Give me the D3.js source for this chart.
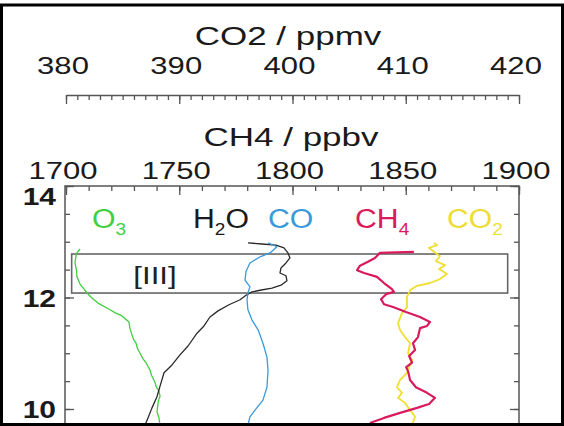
<!DOCTYPE html>
<html>
<head>
<meta charset="utf-8">
<script src="https://cdn.jsdelivr.net/npm/d3@7"></script>
<style>
  html, body { margin: 0; padding: 0; background: #fff; }
  svg { display: block; font-family: "Liberation Sans", Arial, sans-serif; }
</style>
</head>
<body>
<svg id="chart" width="564" height="426"></svg>
<script>
// Tick labels of the two trace-gas axes and the altitude axis
const co2Ticks = [380, 390, 400, 410, 420];
const ch4Ticks = [1700, 1750, 1800, 1850, 1900];
const altTicks = [10, 12, 14];

// Vertical profiles: altitude (km) and mixing ratio for each species
const o3Alt = [12.87, 12.80, 12.74, 12.62, 12.50, 12.37, 12.24, 12.15, 12.05, 11.99, 11.90, 11.78, 11.72, 11.67, 11.56, 11.45, 11.33, 11.25, 11.18, 11.08, 11.00, 10.90, 10.83, 10.70, 10.60, 10.48, 10.40, 10.32, 10.23, 10.15, 10.09, 9.95, 9.84, 9.71];
const o3Val = [15.5, 12.0, 11.0, 9.9, 11.5, 12.1, 15.5, 19.9, 25.0, 28.7, 35.3, 48.6, 55.0, 61.8, 69.5, 70.5, 72.8, 74.5, 77.3, 79.0, 81.7, 85.0, 88.3, 92.7, 94.5, 98.2, 99.5, 102.6, 103.8, 102.0, 101.5, 100.4, 102.6, 103.8];

const h2oAlt = [12.98, 12.96, 12.94, 12.89, 12.80, 12.71, 12.62, 12.53, 12.44, 12.39, 12.30, 12.22, 12.17, 12.13, 12.10, 12.04, 11.96, 11.87, 11.76, 11.65, 11.49, 11.36, 11.13, 10.97, 10.79, 10.65, 10.41, 10.22, 10.02, 9.84, 9.71];
const h2oVal = [299.1, 283.7, 268.2, 259.4, 255.0, 252.8, 257.2, 262.7, 263.8, 257.2, 256.1, 262.7, 272.6, 285.9, 294.7, 301.3, 307.9, 320.1, 332.2, 341.1, 347.7, 355.4, 365.3, 374.2, 383.0, 391.8, 396.2, 399.6, 405.1, 409.5, 412.8];

const coAlt = [12.98, 12.91, 12.80, 12.73, 12.62, 12.46, 12.31, 12.19, 12.08, 11.96, 11.78, 11.60, 11.42, 11.18, 10.93, 10.70, 10.39, 10.16, 9.98, 9.86, 9.71];
const coVal = [111.5, 116.4, 112.6, 107.1, 101.5, 99.3, 98.8, 101.5, 100.4, 99.9, 100.4, 102.6, 106.0, 108.7, 110.9, 111.5, 110.9, 108.7, 104.3, 101.5, 100.4];

const ch4Alt = [12.82, 12.80, 12.71, 12.64, 12.57, 12.49, 12.44, 12.37, 12.26, 12.15, 12.10, 12.06, 11.97, 11.88, 11.83, 11.74, 11.65, 11.56, 11.49, 11.45, 11.29, 11.18, 11.06, 10.95, 10.83, 10.75, 10.68, 10.52, 10.39, 10.29, 10.20, 10.09, 10.02, 9.93, 9.84, 9.75];
const ch4Val = [1853.6, 1838.6, 1836.4, 1833.3, 1829.8, 1828.5, 1831.6, 1837.3, 1840.4, 1843.9, 1844.8, 1841.3, 1839.1, 1840.4, 1844.4, 1850.1, 1856.3, 1860.7, 1859.4, 1856.3, 1855.4, 1853.2, 1854.1, 1851.5, 1852.8, 1850.2, 1851.0, 1851.9, 1854.5, 1859.4, 1862.9, 1860.3, 1855.0, 1847.5, 1840.4, 1834.2];

const co2Alt = [12.98, 12.94, 12.89, 12.82, 12.74, 12.65, 12.58, 12.51, 12.42, 12.33, 12.26, 12.21, 12.13, 12.01, 11.83, 11.72, 11.54, 11.42, 11.29, 11.18, 11.00, 10.88, 10.65, 10.52, 10.39, 10.29, 10.20, 10.11, 9.98, 9.86, 9.71];
const co2Val = [412.49, 412.76, 412.05, 412.49, 413.02, 412.67, 413.47, 412.94, 413.64, 413.02, 412.14, 410.99, 410.38, 410.11, 410.11, 409.67, 409.32, 409.49, 409.93, 410.38, 410.20, 410.55, 410.11, 409.49, 409.23, 409.67, 409.32, 409.93, 410.38, 410.82, 410.55];

// Highlighted layer [III]: altitude span and horizontal extent (CH4 units)
const layerAlt = [12.08, 12.78];
const layerX = [1702.5, 1895];
const layerName = "[III]";

const svg = d3.select("#chart");
const W = 564, H = 426;
const plotLeft = 66, plotRight = 519, plotTop = 186;

// Scales
const y = d3.scaleLinear().domain([10, 14]).range([409, plotTop]);
const xCH4 = d3.scaleLinear().domain([1700, 1900]).range([plotLeft, plotRight]);
const xCO2 = d3.scaleLinear().domain([380, 420]).range([plotLeft, plotRight]);
const xO3 = d3.scaleLinear().domain([0, 500]).range([plotLeft, plotRight]);
const xH2O = d3.scaleLinear().domain([500, 0]).range([plotLeft, plotRight]);
const xCO = d3.scaleLinear().domain([0, 250]).range([plotLeft, plotRight]);

const axisColor = "#555";
const textColor = "#1a1a1a";

// Text drawn slightly stretched horizontally
function stretchedText(g, x, yy, str, size, sx, opts = {}) {
  return g.append("text")
    .attr("transform", `translate(${x},${yy}) scale(${sx},1)`)
    .attr("text-anchor", opts.anchor || "middle")
    .attr("font-size", size)
    .attr("font-weight", opts.weight || "normal")
    .attr("fill", opts.fill || textColor)
    .text(str);
}

function styleAxis(g) {
  g.selectAll("line").attr("stroke", axisColor).attr("stroke-width", 1.3);
  g.selectAll("path").attr("stroke", axisColor).attr("stroke-width", 1.3);
  g.selectAll("text").remove();
}

// ---- CO2 ruler (upper axis) ----
const co2Y = 95;
const co2Minor = svg.append("g").attr("transform", `translate(0,${co2Y})`)
  .call(d3.axisBottom(xCO2).tickValues(d3.range(380, 421, 1)).tickSize(5).tickSizeOuter(0).tickFormat(""));
styleAxis(co2Minor);
const co2Major = svg.append("g").attr("transform", `translate(0,${co2Y})`)
  .call(d3.axisBottom(xCO2).tickValues(co2Ticks).tickSize(9).tickSizeOuter(0).tickFormat(""));
styleAxis(co2Major);
co2Major.select("path").remove();

co2Ticks.forEach(t => stretchedText(svg, xCO2(t) - 3, 74, String(t), 23, 1.35));
stretchedText(svg, 288, 45, "CO2 / ppmv", 25, 1.4);

// ---- CH4 axis on the top edge of the frame ----
const ch4Minor = svg.append("g").attr("transform", `translate(0,${plotTop})`)
  .call(d3.axisBottom(xCH4).tickValues(d3.range(1700, 1901, 10)).tickSize(5).tickSizeOuter(0).tickFormat(""));
styleAxis(ch4Minor);
ch4Minor.select("path").remove();
const ch4Major = svg.append("g").attr("transform", `translate(0,${plotTop})`)
  .call(d3.axisBottom(xCH4).tickValues(ch4Ticks).tickSize(9).tickSizeOuter(0).tickFormat(""));
styleAxis(ch4Major);
ch4Major.select("path").remove();

ch4Ticks.forEach(t => stretchedText(svg, xCH4(t) - 3, 179, String(t), 23, 1.35));
stretchedText(svg, 291, 146, "CH4 / ppbv", 25, 1.4);

// ---- Altitude axes (left and right edges) ----
const altMinor = d3.range(9, 14.01, 0.5);
[[d3.axisRight, plotLeft - 1], [d3.axisLeft, plotRight]].forEach(([ax, xx]) => {
  const gMin = svg.append("g").attr("transform", `translate(${xx},0)`)
    .call(ax(y).tickValues(altMinor).tickSize(5).tickSizeOuter(0).tickFormat(""));
  styleAxis(gMin); gMin.select("path").remove();
  const gMaj = svg.append("g").attr("transform", `translate(${xx},0)`)
    .call(ax(y).tickValues(altTicks).tickSize(9).tickSizeOuter(0).tickFormat(""));
  styleAxis(gMaj); gMaj.select("path").remove();
});
// the topmost label sits just below the frame edge
altTicks.forEach(t => {
  const ly = Math.max(y(t) + 9, plotTop + 19);
  stretchedText(svg, 56, ly, String(t), 24, 1.25, { anchor: "end", weight: "bold" });
});

// ---- Frame ----
svg.append("rect")
  .attr("x", plotLeft - 1).attr("y", plotTop)
  .attr("width", plotRight - plotLeft + 1).attr("height", y(8) - plotTop)
  .attr("fill", "none").attr("stroke", axisColor).attr("stroke-width", 1.5);

// ---- Layer box ----
svg.append("rect")
  .attr("x", xCH4(layerX[0])).attr("y", y(layerAlt[1]))
  .attr("width", xCH4(layerX[1]) - xCH4(layerX[0]))
  .attr("height", y(layerAlt[0]) - y(layerAlt[1]))
  .attr("fill", "none").attr("stroke", "#666").attr("stroke-width", 1.6);
stretchedText(svg, 155, 284, layerName, 24, 1.3, { fill: "#222" });

// ---- Profiles ----
svg.append("clipPath").attr("id", "plotClip")
  .append("rect").attr("x", plotLeft).attr("y", plotTop).attr("width", plotRight - plotLeft).attr("height", 423 - plotTop);

const plot = svg.append("g").attr("clip-path", "url(#plotClip)");

const profiles = [
  { alt: o3Alt, val: o3Val, x: xO3, color: "#3fcf3f", width: 1.3 },
  { alt: h2oAlt, val: h2oVal, x: xH2O, color: "#2a2a2a", width: 1.3 },
  { alt: coAlt, val: coVal, x: xCO, color: "#3a9ad9", width: 1.3 },
  { alt: co2Alt, val: co2Val, x: xCO2, color: "#f0df30", width: 1.8 },
  { alt: ch4Alt, val: ch4Val, x: xCH4, color: "#d81b5c", width: 2.2 }
];

profiles.forEach(p => {
  const pts = p.alt.map((a, i) => [p.x(p.val[i]), y(a)]);
  plot.append("path")
    .attr("d", d3.line()(pts))
    .attr("fill", "none")
    .attr("stroke", p.color)
    .attr("stroke-width", p.width)
    .attr("stroke-linejoin", "round");
});

// ---- Species labels ----
const labels = [
  { main: "O", sub: "3", tail: "", color: "#3fcf3f", x: 92 },
  { main: "H", sub: "2", tail: "O", color: "#1a1a1a", x: 193 },
  { main: "CO", sub: "", tail: "", color: "#3a9ad9", x: 268 },
  { main: "CH", sub: "4", tail: "", color: "#d81b5c", x: 355 },
  { main: "CO", sub: "2", tail: "", color: "#eedd33", x: 447 }
];
labels.forEach(l => {
  const t = svg.append("text")
    .attr("transform", `translate(${l.x},228) scale(1.12,1)`)
    .attr("font-size", 27)
    .attr("fill", l.color);
  t.append("tspan").text(l.main);
  if (l.sub) t.append("tspan").attr("font-size", 17).attr("dy", 7).text(l.sub);
  if (l.tail) t.append("tspan").attr("dy", -7).text(l.tail);
});

// ---- Outer border ----
svg.append("rect")
  .attr("x", 1.5).attr("y", 5).attr("width", W - 3).attr("height", H - 6.5)
  .attr("fill", "none").attr("stroke", "#000").attr("stroke-width", 3);
</script>
</body>
</html>
